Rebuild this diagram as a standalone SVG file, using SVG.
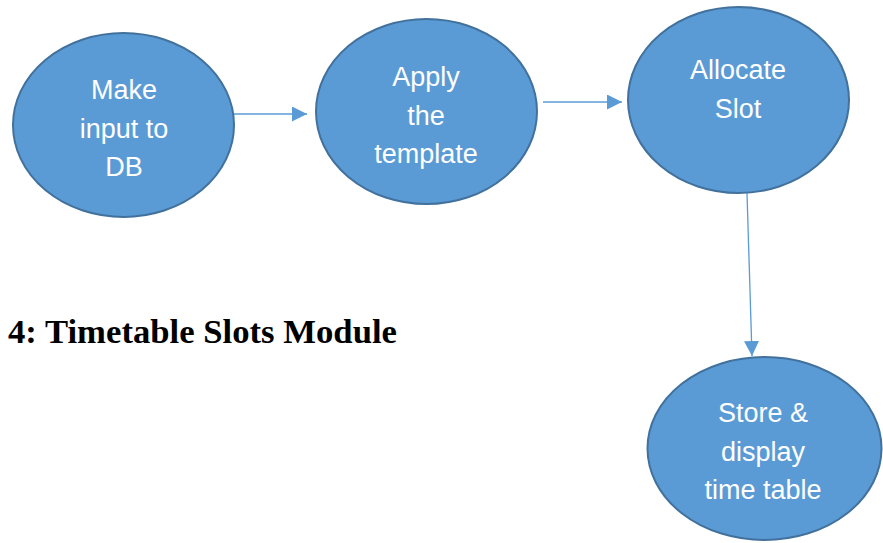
<svg xmlns="http://www.w3.org/2000/svg" width="883" height="543" viewBox="0 0 883 543">
  <style>
    .node ellipse { fill: #5B9BD5; stroke: #41719C; stroke-width: 2; }
    .node text { fill: #FFFFFF; font-family: "Liberation Sans", Arial, sans-serif; font-size: 27px; text-anchor: middle; }
    .edge { stroke: #5B9BD5; stroke-width: 1.3; fill: none; marker-end: url(#arrow); }
    .title { font-family: "Liberation Serif", "Times New Roman", serif; font-weight: bold; font-size: 33px; fill: #000000; }
  </style>
  <defs>
    <marker id="arrow" markerWidth="16" markerHeight="16" refX="15" refY="7.5" orient="auto" markerUnits="userSpaceOnUse">
      <path d="M0,0 L15,7.5 L0,15 Z" fill="#5B9BD5"/>
    </marker>
  </defs>
  <rect width="883" height="543" fill="#FFFFFF"/>

  <g id="connectors">
    <line class="edge" x1="234" y1="114" x2="307" y2="114"/>
    <line class="edge" x1="543" y1="102" x2="622" y2="102"/>
    <line class="edge" x1="747" y1="193" x2="752" y2="356"/>
  </g>

  <g id="node-make-input" class="node">
    <ellipse cx="123.5" cy="125" rx="110.5" ry="92"/>
    <text x="124" y="99">Make</text>
    <text x="124" y="137.5">input to</text>
    <text x="124" y="176">DB</text>
  </g>

  <g id="node-apply-template" class="node">
    <ellipse cx="426.5" cy="111.5" rx="110.5" ry="92.5"/>
    <text x="426" y="86">Apply</text>
    <text x="426" y="124.5">the</text>
    <text x="426" y="163">template</text>
  </g>

  <g id="node-allocate-slot" class="node">
    <ellipse cx="738.5" cy="100" rx="110.5" ry="93"/>
    <text x="738" y="79">Allocate</text>
    <text x="738" y="117.5">Slot</text>
  </g>

  <g id="node-store-display" class="node">
    <ellipse cx="764.5" cy="448.5" rx="117" ry="91.5"/>
    <text x="763" y="422">Store &amp;</text>
    <text x="763" y="460.5">display</text>
    <text x="763" y="499">time table</text>
  </g>

  <text class="title" x="8" y="343" textLength="389" lengthAdjust="spacingAndGlyphs">4: Timetable Slots Module</text>
</svg>
